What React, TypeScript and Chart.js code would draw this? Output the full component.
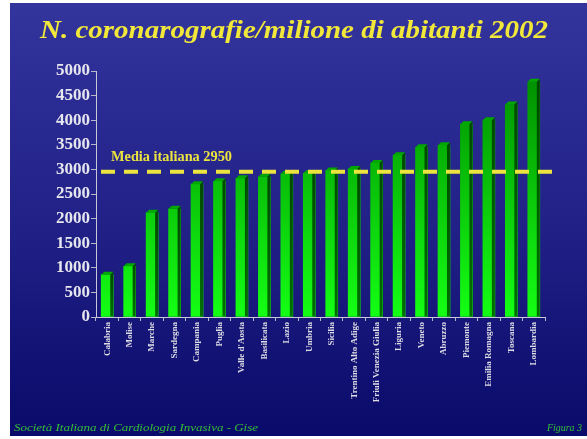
import React, { useEffect, useRef } from "react";
import { Chart, registerables } from "chart.js";

Chart.register(...registerables);

const regions = [
  "Calabria", "Molise", "Marche", "Sardegna", "Campania", "Puglia",
  "Valle d'Aosta", "Basilicata", "Lazio", "Umbria", "Sicilia",
  "Trentino Alto Adige", "Friuli Venezia Giulia", "Liguria", "Veneto",
  "Abruzzo", "Piemonte", "Emilia Romagna", "Toscana", "Lombardia",
];
const values = [
  860, 1030, 2120, 2200, 2700, 2760, 2820, 2850, 2910, 2920, 2980,
  3010, 3130, 3290, 3450, 3490, 3920, 4000, 4320, 4780,
];
const yMin = 0;
const yMax = 5000;
const yStep = 500;
const mediaItaliana = 2950;
const mediaLabel = "Media italiana 2950";
const titleText = "N. coronarografie/milione di abitanti 2002";
const footerLeft = "Società Italiana di Cardiologia Invasiva - Gise";
const footerRight = "Figura 3";

function fitText(ctx: CanvasRenderingContext2D, text: string, x: number, y: number, w: number) {
  const m = ctx.measureText(text).width;
  const s = w / m;
  ctx.save();
  ctx.translate(x, y);
  ctx.scale(s, 1);
  ctx.textAlign = "left";
  ctx.textBaseline = "alphabetic";
  ctx.fillText(text, 0, 0);
  ctx.restore();
}

const slidePlugin = {
  id: "slide",
  beforeDraw(chart: any) {
    const { ctx, width, height } = chart;
    ctx.save();
    ctx.fillStyle = "#ffffff";
    ctx.fillRect(0, 0, width, height);
    const g = ctx.createLinearGradient(0, 3, 0, 436);
    g.addColorStop(0, "#33349c");
    g.addColorStop(0.5, "#212188");
    g.addColorStop(1, "#0a0a6a");
    ctx.fillStyle = g;
    ctx.fillRect(10, 3, width - 10, 433);
    ctx.restore();
  },
  afterDatasetsDraw(chart: any) {
    const { ctx } = chart;
    const meta = chart.getDatasetMeta(0);
    const d = 3;
    ctx.save();
    meta.data.forEach((bar: any) => {
      const p = bar.getProps(["x", "y", "base", "width"], true);
      const xl = p.x - p.width / 2;
      const xr = p.x + p.width / 2;
      const top = p.y;
      const base = p.base;
      const sg = ctx.createLinearGradient(0, top, 0, base);
      sg.addColorStop(0, "#004a00");
      sg.addColorStop(1, "#006e00");
      ctx.fillStyle = sg;
      ctx.beginPath();
      ctx.moveTo(xr - d, top);
      ctx.lineTo(xr, top - d);
      ctx.lineTo(xr, base);
      ctx.lineTo(xr - d, base);
      ctx.closePath();
      ctx.fill();
      ctx.fillStyle = "#00a800";
      ctx.beginPath();
      ctx.moveTo(xl, top);
      ctx.lineTo(xl + d, top - d);
      ctx.lineTo(xr, top - d);
      ctx.lineTo(xr - d, top);
      ctx.closePath();
      ctx.fill();
    });
    // media line
    const yPix = chart.scales.y.getPixelForValue(mediaItaliana);
    ctx.strokeStyle = "#ece43e";
    ctx.lineWidth = 4;
    ctx.setLineDash([14, 9]);
    ctx.beginPath();
    ctx.moveTo(101, yPix);
    ctx.lineTo(561, yPix);
    ctx.stroke();
    ctx.setLineDash([]);
    ctx.fillStyle = "#ece43e";
    ctx.font = "bold 14px 'Liberation Serif', serif";
    fitText(ctx, mediaLabel, 111, yPix - 11, 121);
    ctx.restore();
  },
  afterDraw(chart: any) {
    const { ctx } = chart;
    ctx.save();
    ctx.fillStyle = "#f2e83a";
    ctx.font = "bold italic 25px 'Liberation Serif', serif";
    fitText(ctx, titleText, 40, 37.5, 508);
    ctx.fillStyle = "#35c035";
    ctx.font = "italic 11px 'Liberation Serif', serif";
    fitText(ctx, footerLeft, 14, 431, 244);
    fitText(ctx, footerRight, 547, 431, 35);
    ctx.restore();
  },
};

export default function App() {
  const ref = useRef<HTMLCanvasElement | null>(null);
  useEffect(() => {
    document.body.style.margin = "0";
    const canvas = ref.current;
    if (!canvas) return;
    const chart = new Chart(canvas, {
      type: "bar",
      data: {
        labels: regions,
        datasets: [
          {
            data: values,
            barThickness: 12,
            borderWidth: 0,
            backgroundColor: (c: any) => {
              const ca = c.chart.chartArea;
              if (!ca) return "#00cc00";
              const g = c.chart.ctx.createLinearGradient(0, ca.top, 0, ca.bottom);
              g.addColorStop(0, "#008c00");
              g.addColorStop(1, "#14ff14");
              return g;
            },
          },
        ],
      },
      options: {
        responsive: false,
        animation: false,
        devicePixelRatio: 1,
        layout: { padding: { left: 10, right: 42, top: 71, bottom: 22 } },
        plugins: {
          legend: { display: false },
          tooltip: { enabled: false },
          title: { display: false },
        },
        scales: {
          x: {
            afterFit: (s: any) => { s.height = 100; },
            grid: { drawOnChartArea: false, tickLength: 4, color: "#b8b8c8", offset: true },
            border: { color: "#c8c8d8", width: 1 },
            ticks: {
              autoSkip: false,
              minRotation: 90,
              maxRotation: 90,
              padding: 1,
              color: "#dcdce4",
              font: { family: "'Liberation Serif', serif", size: 9, weight: "bold" },
            },
          },
          y: {
            min: yMin,
            max: yMax,
            afterFit: (s: any) => { s.width = 86; },
            grid: { drawOnChartArea: false, tickLength: 5, color: "#b8b8c8" },
            border: { color: "#c8c8d8", width: 1 },
            ticks: {
              stepSize: yStep,
              padding: 1,
              color: "#e6e6ee",
              callback: (v: any) => String(v),
              font: { family: "'Liberation Serif', serif", size: 17, weight: "bold" },
            },
          },
        },
      },
      plugins: [slidePlugin],
    } as any);
    return () => chart.destroy();
  }, []);
  return (
    <div style={{ width: 587, height: 439 }}>
      <canvas ref={ref} width={587} height={439} style={{ display: "block" }} />
    </div>
  );
}
